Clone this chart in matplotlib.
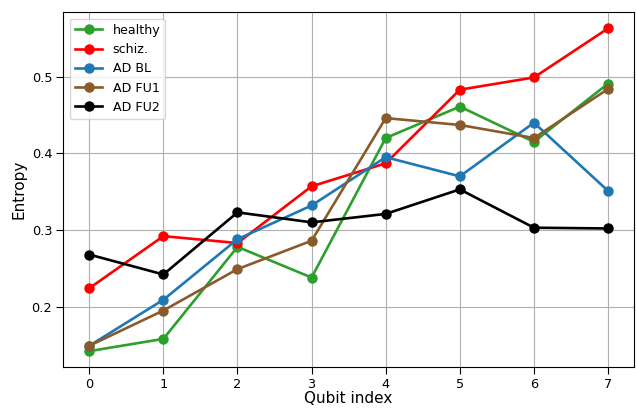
# Entropy per qubit for each cohort

import numpy as np
import matplotlib.pyplot as plt

qubits = np.arange(8)

healthy = [0.142, 0.158, 0.278, 0.238, 0.420, 0.461, 0.415, 0.491]
schiz = [0.224, 0.292, 0.283, 0.357, 0.387, 0.483, 0.499, 0.563]
ad_bl = [0.149, 0.209, 0.288, 0.332, 0.395, 0.370, 0.440, 0.351]
ad_fu1 = [0.149, 0.195, 0.249, 0.286, 0.446, 0.437, 0.420, 0.484]
ad_fu2 = [0.268, 0.242, 0.323, 0.310, 0.321, 0.353, 0.303, 0.302]

fig = plt.figure(figsize=(6.37,4.08), dpi=100, facecolor='white')
ax = fig.add_subplot(111)
fig.subplots_adjust(left=0.0994, right=0.9953, top=0.970, bottom=0.0998)

style = dict(marker='o', linewidth=1.9, markersize=6.5)
ax.plot(qubits, healthy, color='#2ca02c', label='healthy', **style)
ax.plot(qubits, schiz, color='red', label='schiz.', **style)
ax.plot(qubits, ad_bl, color='#1f77b4', label='AD BL', **style)
ax.plot(qubits, ad_fu1, color='#8b5a2b', label='AD FU1', **style)
ax.plot(qubits, ad_fu2, color='black', label='AD FU2', **style)

ax.set_xticks(qubits)
ax.set_yticks([0.2, 0.3, 0.4, 0.5])
ax.tick_params(labelsize=9.3, length=5, pad=3)
ax.grid(True)
ax.set_xlabel('Qubit index', fontsize=11, labelpad=0)
ax.set_ylabel('Entropy', fontsize=11)
ax.legend(loc='upper left', fontsize=9.1, handlelength=2.2)

fig.savefig('out.png', dpi=100)
